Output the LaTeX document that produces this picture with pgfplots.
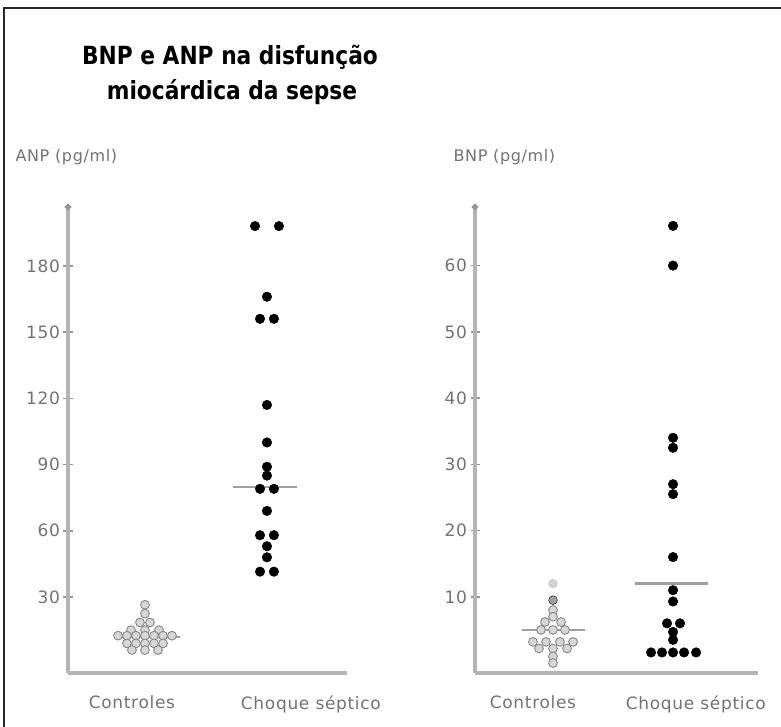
\documentclass[border=0pt]{standalone}
\usepackage{fontspec}
\setmainfont{DejaVu Sans}
\newfontfamily\lblfont{DejaVu Sans}[LetterSpace=4]
\usepackage{pgfplots}
\pgfplotsset{compat=1.18}
\usetikzlibrary{arrows.meta}

\definecolor{axisgray}{RGB}{180,180,180}
\definecolor{tickgray}{RGB}{150,150,150}
\definecolor{textgray}{RGB}{115,115,115}
\definecolor{ringgray}{RGB}{135,135,135}
\definecolor{fillgray}{RGB}{215,215,215}
\definecolor{medgray}{RGB}{160,160,160}

\pgfplotsset{
  swarm/.style={
    scale only axis,
    height=469pt,
    axis lines=left,
    axis line style={axisgray, line width=3.2pt},
    x axis line style={-},
    y axis line style={-{Circle[length=6pt, color=tickgray]}},
    tick align=center,
    major tick length=9pt,
    tick style={tickgray, line width=1.5pt},
    major x tick style={draw=none},
    tick label style={font=\lblfont\fontsize{17}{20}\selectfont, text=textgray},
    xticklabel style={yshift=-15pt},
    /pgf/number format/assume math mode=true,
    clip=false,
  },
  septic/.style={only marks, mark=*, mark size=4.8pt,
    mark options={draw=black, fill=black}},
  control/.style={only marks, mark=*, mark size=4.4pt,
    mark options={draw=ringgray, fill=fillgray, line width=0.9pt}},
  median/.style={no marks, draw=medgray, line width=2.2pt},
}

\begin{document}
\begin{tikzpicture}
\useasboundingbox (0,0) rectangle (781pt,727pt);
\fill[white] (0,0) rectangle (781pt,727pt);

% frame
\draw[line width=2.5pt, black!85] (4pt,-2pt) -- (4pt,719pt) -- (783pt,719pt);

% title
\node[anchor=base, xscale=0.87, font=\bfseries\fontsize{25}{30}\selectfont]
  at (230pt,662pt) {BNP e ANP na disfunção};
\node[anchor=base, xscale=0.87, font=\bfseries\fontsize{25}{30}\selectfont]
  at (232pt,627pt) {miocárdica da sepse};

% ANP panel
\begin{axis}[swarm,
  at={(68pt,54pt)}, anchor=south west,
  width=279pt,
  xmin=0.369, xmax=2.656,
  ymin=-4.4, ymax=208,
  ytick={30,60,90,120,150,180},
  xtick={0.893,2.36},
  xticklabels={Controles, Choque séptico},
]
\addplot[control] coordinates {
  (1,26.5) (1,22.5) (0.959,18.5) (1.041,18.5)
  (0.885,15) (1,15) (1.115,15)
  (0.779,12.5) (0.852,12.5) (0.926,12.5) (1,12.5) (1.074,12.5) (1.148,12.5) (1.221,12.5)
  (0.852,9) (0.926,9) (1,9) (1.074,9) (1.148,9)
  (0.893,6) (1,6) (1.107,6)
};
\addplot[median] coordinates {(0.754,11.8) (1.287,11.8)};
\addplot[septic] coordinates {
  (1.902,198) (2.098,198) (2,166) (1.943,156) (2.057,156)
  (2,117) (2,100) (2,89) (2,85) (1.943,79) (2.057,79) (2,69)
  (1.943,58) (2.057,58) (2,53) (2,48) (1.943,41.5) (2.057,41.5)
};
\addplot[median] coordinates {(1.721,80) (2.246,80)};
\end{axis}

% BNP panel
\begin{axis}[swarm,
  at={(475pt,54pt)}, anchor=south west,
  width=283pt,
  xmin=0.35, xmax=2.708,
  ymin=-1.5, ymax=69.3,
  ytick={10,20,30,40,50,60},
  xtick={0.833,2.19},
  xticklabels={Controles, Choque séptico},
]
\addplot[control] coordinates {
  (1,8) (1,7) (0.933,6.2) (1.067,6.2)
  (0.9,5) (1,5) (1.1,5)
  (0.833,3.2) (0.942,3.2) (1.058,3.2) (1.167,3.2)
  (0.883,2.2) (1,2.2) (1.117,2.2) (1,1) (1,0)
};
\addplot[control, mark options={fill=ringgray!80}] coordinates {(1,9.5)};
\addplot[control, mark options={fill=gray!35, draw=gray!45}] coordinates {(1,12)};
\addplot[median] coordinates {(0.739,5) (1.267,5)};
\addplot[septic] coordinates {
  (2,66) (2,60) (2,34) (2,32.5) (2,27) (2,25.5) (2,16) (2,11) (2,9.3)
  (1.95,6) (2.058,6) (2,4.7) (2,3.5)
  (1.817,1.6) (1.908,1.6) (2,1.6) (2.092,1.6) (2.192,1.6)
};
\addplot[median] coordinates {(1.683,12) (2.292,12)};
\end{axis}

% axis titles
\node[anchor=west, text=textgray, font=\lblfont\fontsize{16}{18}\selectfont]
  at (12pt,570pt) {ANP (pg/ml)};
\node[anchor=west, text=textgray, font=\lblfont\fontsize{16}{18}\selectfont]
  at (450pt,570pt) {BNP (pg/ml)};
\end{tikzpicture}
\end{document}
